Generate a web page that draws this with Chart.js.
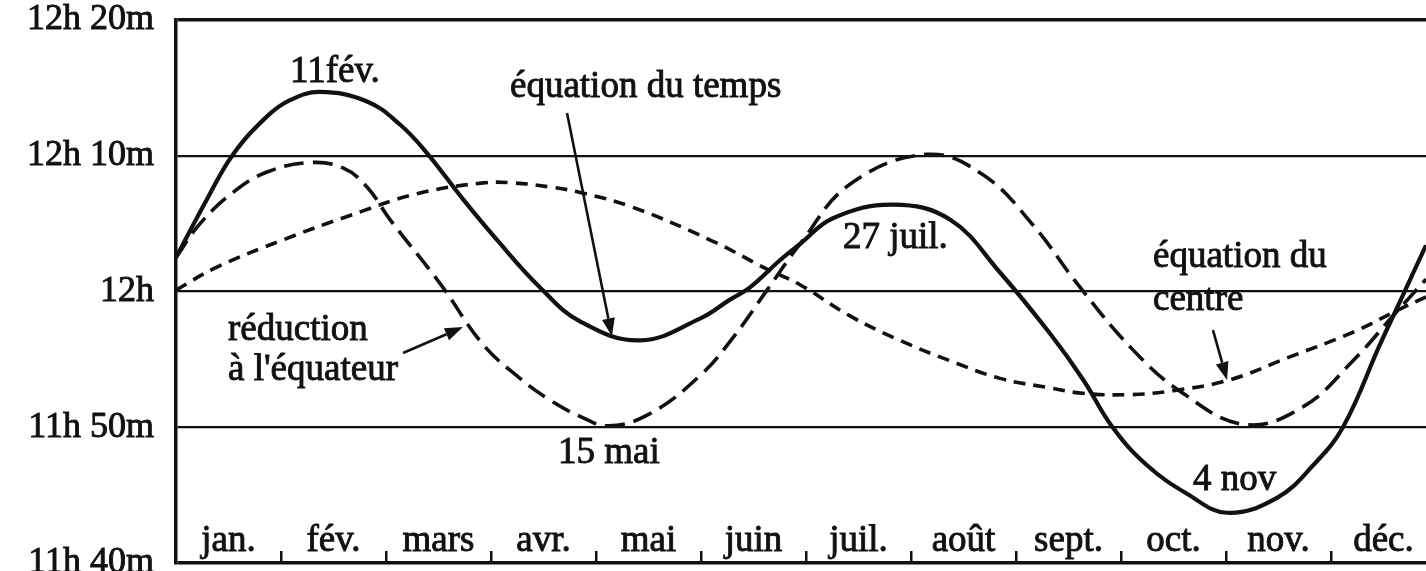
<!DOCTYPE html>
<html><head><meta charset="utf-8">
<script src="https://cdn.jsdelivr.net/npm/chart.js@4.4.1/dist/chart.umd.min.js"></script>
<style>html,body{margin:0;padding:0;background:#fff;overflow:hidden}canvas{display:block;background:#fff}</style>
</head><body>
<canvas id="c" width="1426" height="571"></canvas>
<script>
// ---- data (x = months since 1 Jan, y = minutes relative to 12h) ----
const months = ['jan.','fév.','mars','avr.','mai','juin','juil.','août','sept.','oct.','nov.','déc.'];
const monthTicks = [1,2,3,4,5,6,7,8,9,10,11];
const yTickValues = [-20,-10,0,10,20];
const yTickLabels = ['11h 40m','11h 50m','12h','12h 10m','12h 20m'];

// équation du temps (solid)
const tempsX = [0,0.295,0.543,0.867,1.086,1.371,1.819,2.133,2.39,2.733,3.057,3.467,3.848,4.419,4.99,5.276,5.467,5.752,5.943,6.257,6.829,7.371,7.848,8.324,8.64,8.92,9.248,9.629,10.01,10.486,10.83,11.114,11.467,11.629,11.905];
const tempsY = [2.5,6.8,10.1,12.9,14.1,14.7,14.0,12.3,10.2,6.8,3.8,0.3,-2.2,-3.6,-2.0,-0.6,0.3,2.3,3.5,5.4,6.4,5.3,1.4,-3.1,-6.5,-10.0,-12.8,-14.9,-16.3,-15.2,-12.8,-10.0,-3.9,-1.2,3.4];

// réduction à l'équateur (long dashes)
const reducX = [0,0.229,0.543,0.867,1.276,1.59,1.819,2.038,2.514,2.924,3.276,3.562,3.848,4.12,4.514,4.99,5.305,5.629,5.943,6.419,7.152,7.686,8.162,8.581,9.114,9.59,10.18,10.733,11.21,11.59,11.905];
const reducY = [2.5,5.0,7.3,8.8,9.5,9.1,7.7,5.3,0.6,-3.9,-6.4,-8.0,-9.2,-9.9,-9.0,-6.2,-3.4,0.1,3.5,7.9,10.1,8.6,4.9,0.6,-4.3,-7.5,-9.8,-8.5,-5.1,-1.8,0.9];

// équation du centre (short dashes)
const centreX = [0,0.39,1.019,1.657,2.295,2.924,3.21,3.562,3.848,4.352,5.114,5.59,5.943,6.419,6.895,7.371,7.848,8.324,8.638,9.086,9.5,10.04,10.58,11.21,11.629,11.905];
const centreY = [0.1,1.8,3.8,5.6,7.2,8.0,8.0,7.7,7.3,6.2,3.7,1.8,0.5,-1.8,-3.6,-5.1,-6.4,-7.1,-7.5,-7.6,-7.3,-6.5,-4.9,-3.0,-1.4,-0.4];

// ---- styling / annotations ----
const INK = '#111';
const FONT = '"Liberation Serif", "Times New Roman", serif';
const zip = (xs, ys) => xs.map((x, i) => ({x, y: ys[i]}));

const notes = [
  {text:'11fév.', x:1.086, y:15.43},
  {text:'équation du temps', x:3.181, y:14.33},
  {text:'27 juil.', x:6.352, y:3.2},
  {text:'équation du', x:9.305, y:1.8},
  {text:'centre', x:9.305, y:-1.36},
  {text:'réduction', x:0.495, y:-3.57},
  {text:"à l'équateur", x:0.495, y:-6.52},
  {text:'15 mai', x:3.638, y:-12.63},
  {text:'4 nov', x:9.686, y:-14.62}
];
const arrows = [
  {from:[3.724,13.15], to:[4.152,-3.3]},
  {from:[2.162,-4.53], to:[2.733,-2.62]},
  {from:[9.876,-2.84], to:[10.01,-6.52]}
];

function inkText(ctx, t, px, py) {
  ctx.fillText(t, px, py);
  ctx.strokeText(t, px, py);
}

const annot = {
  id: 'annot',
  afterDatasetsDraw(chart) {
    const {ctx, scales: {x, y}} = chart;
    ctx.save();
    ctx.fillStyle = INK;
    ctx.strokeStyle = INK;
    ctx.font = '37px ' + FONT;
    ctx.textBaseline = 'alphabetic';
    ctx.lineWidth = 0.9;
    ctx.textAlign = 'center';
    months.forEach((m, i) => inkText(ctx, m, x.getPixelForValue(i + 0.5), y.getPixelForValue(-19.1)));
    ctx.textAlign = 'left';
    notes.forEach(n => inkText(ctx, n.text, x.getPixelForValue(n.x), y.getPixelForValue(n.y)));
    ctx.lineWidth = 2.6;
    arrows.forEach(a => {
      const x1 = x.getPixelForValue(a.from[0]), y1 = y.getPixelForValue(a.from[1]);
      const x2 = x.getPixelForValue(a.to[0]), y2 = y.getPixelForValue(a.to[1]);
      const ang = Math.atan2(y2 - y1, x2 - x1);
      const L = 18, W = 6.5;
      const bx = x2 - L * Math.cos(ang), by = y2 - L * Math.sin(ang);
      ctx.beginPath(); ctx.moveTo(x1, y1); ctx.lineTo(bx, by); ctx.stroke();
      ctx.beginPath();
      ctx.moveTo(x2, y2);
      ctx.lineTo(bx + W * Math.sin(ang), by - W * Math.cos(ang));
      ctx.lineTo(bx - W * Math.sin(ang), by + W * Math.cos(ang));
      ctx.closePath(); ctx.fill();
    });
    ctx.restore();
  }
};

const lineStyle = {borderColor: INK, pointRadius: 0, tension: 0.4, fill: false};

new Chart(document.getElementById('c'), {
  type: 'line',
  data: {
    datasets: [
      Object.assign({label:'équation du temps', data: zip(tempsX, tempsY), borderWidth: 4.2}, lineStyle),
      Object.assign({label:"réduction à l'équateur", data: zip(reducX, reducY), borderWidth: 3.6, borderDash: [20, 9]}, lineStyle),
      Object.assign({label:'équation du centre', data: zip(centreX, centreY), borderWidth: 3.6, borderDash: [12, 8]}, lineStyle)
    ]
  },
  options: {
    responsive: false,
    animation: false,
    devicePixelRatio: 1,
    layout: {padding: {top: 20, right: 0, bottom: 8, left: 0}},
    plugins: {legend: {display: false}, tooltip: {enabled: false}},
    scales: {
      x: {
        type: 'linear', min: 0, max: 11.905,
        afterBuildTicks: s => { s.ticks = monthTicks.map(v => ({value: v})); },
        afterFit: s => { s.height = 0; s.paddingLeft = 0; s.paddingRight = 0; },
        ticks: {display: false},
        grid: {drawOnChartArea: false, drawTicks: true, tickLength: -12, color: INK, lineWidth: 2.5},
        border: {display: false}
      },
      y: {
        type: 'linear', min: -20, max: 20,
        afterBuildTicks: s => { s.ticks = yTickValues.map(v => ({value: v})); },
        afterFit: s => { s.width = 176; s.paddingTop = 0; s.paddingBottom = 0; },
        ticks: {
          padding: 22, color: INK, labelOffset: 0,
          textStrokeColor: INK, textStrokeWidth: 0.9,
          font: {family: FONT, size: 36},
          callback: v => { const i = yTickValues.indexOf(v); return i >= 0 ? yTickLabels[i] : ''; }
        },
        grid: {drawTicks: false, color: INK, lineWidth: c => (Math.abs(c.tick.value) === 20 ? 3.5 : 2.2)},
        border: {display: true, color: INK, width: 3.5}
      }
    }
  },
  plugins: [annot]
});
</script>
</body></html>
